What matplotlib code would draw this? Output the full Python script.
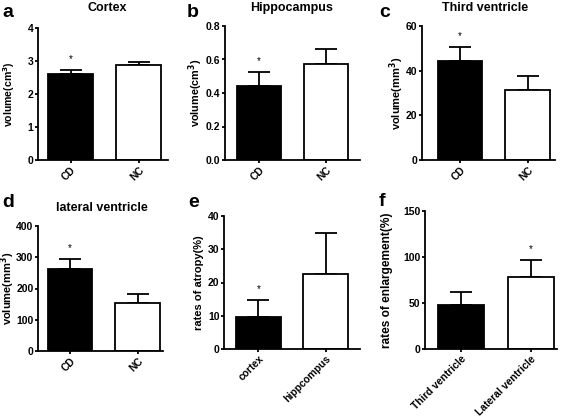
import matplotlib
matplotlib.use("Agg")
import matplotlib.pyplot as plt

plt.rcParams['font.family'] = ['Liberation Sans', 'DejaVu Sans']
plt.rcParams['font.weight'] = 'bold'
plt.rcParams['mathtext.default'] = 'bf'

# data
titles = ["Cortex", "Hippocampus", "Third ventricle", "lateral ventricle", "", ""]
letters = ["a", "b", "c", "d", "e", "f"]
ylabels = ["volume(cm$^3$)", "volume(cm$^3$)", "volume(mm$^3$)",
           "volume(mm$^3$)", "rates of atropy(%)", "rates of enlargement(%)"]
cats = [["CD", "NC"], ["CD", "NC"], ["CD", "NC"], ["CD", "NC"],
        ["cortex", "hippcompus"], ["Third ventricle", "Lateral ventricle"]]
means = [[2.60, 2.88], [0.44, 0.575], [44.5, 31.3], [262, 155], [9.7, 22.5], [48, 78]]
errs = [[0.13, 0.08], [0.085, 0.09], [6.0, 6.2], [31, 28], [4.9, 12.5], [14, 19]]
star = [0, 0, 0, 0, 0, 1]
ymax = [4, 0.8, 60, 400, 40, 150]
ystep = [1, 0.2, 20, 100, 10, 50]
yfmt = ["{:.0f}", "{:.1f}", "{:.0f}", "{:.0f}", "{:.0f}", "{:.0f}"]

W, H = 567, 418
# axes boxes in pixels: x0, x1, ytop, ybottom
boxes = [(38, 168, 28, 160), (225, 360, 26, 160), (422, 555, 26, 160),
         (38, 163, 226, 351), (224, 360, 216, 349), (425, 557, 211, 349)]
xlims = [(-0.48, 1.43), (-0.51, 1.51), (-0.56, 1.40), (-0.47, 1.37), (-0.51, 1.51), (-0.51, 1.37)]
letter_pos = [(2, 17), (187, 17), (379, 17), (2, 207), (188, 207), (379, 206)]
title_x = [107, 292, 485, 102, None, None]
title_y = [8, 8, 8, 208, None, None]
ylab_x = [9, 196, 397, 8, 199, 387]
ylab_size = [7.6, 7.8, 8.0, 8.0, 8.0, 8.6]

fig = plt.figure(figsize=(W / 100, H / 100), dpi=100)

for i in range(6):
    x0, x1, yt, yb = boxes[i]
    ax = fig.add_axes([x0 / W, 1 - yb / H, (x1 - x0) / W, (yb - yt) / H])
    pos = [0, 1]
    ax.bar(pos, means[i], width=0.66, color=['black', 'white'], edgecolor='black',
           linewidth=1.3, zorder=2)
    ax.errorbar(pos, means[i], yerr=[[0, 0], errs[i]], fmt='none', ecolor='black',
                elinewidth=1.3, capsize=8, capthick=1.3, zorder=1)
    s = star[i]
    ax.annotate("*", xy=(pos[s], means[i][s] + errs[i][s]), xytext=(0, 8),
                textcoords='offset points', ha='center', va='center',
                fontsize=7, fontweight='normal')
    ax.set_xlim(*xlims[i])
    ax.set_ylim(0, ymax[i])
    ticks = [ystep[i] * k for k in range(int(round(ymax[i] / ystep[i])) + 1)]
    ax.set_yticks(ticks)
    ax.set_yticklabels([yfmt[i].format(t) for t in ticks], fontsize=7.5, fontweight='bold')
    ax.set_xticks(pos)
    ax.set_xticklabels(cats[i], rotation=45, ha='right', rotation_mode='anchor',
                       fontsize=7.4, fontweight='bold')
    for sp in ['top', 'right']:
        ax.spines[sp].set_visible(False)
    for sp in ['left', 'bottom']:
        ax.spines[sp].set_linewidth(1.3)
    ax.tick_params(width=1.3, length=2.5, pad=0.8)
    fig.text(ylab_x[i] / W, 1 - (yt + yb) / 2 / H, ylabels[i], rotation=90,
             ha='center', va='center', fontsize=ylab_size[i], fontweight='bold')
    if titles[i]:
        fig.text(title_x[i] / W, 1 - title_y[i] / H, titles[i], ha='center', va='center',
                 fontsize=9, fontweight='bold')
    lx, ly = letter_pos[i]
    fig.text(lx / W, 1 - ly / H, letters[i], ha='left', va='baseline',
             fontsize=14, fontweight='bold')

fig.savefig("out.png", dpi=100)
